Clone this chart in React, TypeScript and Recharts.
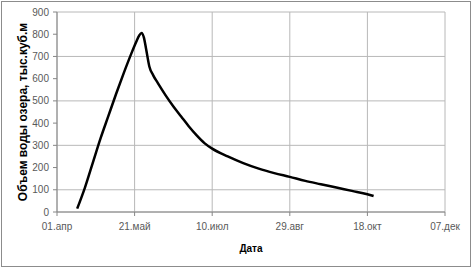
import { LineChart, Line, XAxis, YAxis, CartesianGrid, Label } from 'recharts';

// days counted from 01.апр
const days = [13, 18, 23, 28, 33, 38, 43, 48, 51, 53, 54.5, 56, 57.5, 59.5, 62, 65, 70, 75, 80, 85, 90, 95, 100, 110, 120, 130, 140, 150, 160, 170, 180, 190, 200, 204];
const volume = [15, 110, 220, 330, 430, 530, 625, 715, 765, 795, 806, 785, 730, 655, 615, 580, 525, 475, 430, 385, 345, 310, 285, 250, 220, 195, 175, 158, 140, 125, 110, 95, 80, 72];

const dateTicks = [0, 50, 100, 150, 200, 250];
const dateLabels = ['01.апр', '21.май', '10.июл', '29.авг', '18.окт', '07.дек'];
const volumeTicks = [0, 100, 200, 300, 400, 500, 600, 700, 800, 900];

const data = days.map((d, i) => ({ day: d, volume: volume[i] }));

const font = 'Liberation Sans, Arial, sans-serif';
const tickStyle = { fontSize: 10, fill: '#595959', fontFamily: font };

const App = () => {
  return (
    <div style={{ position: 'absolute', left: 0, top: 0, width: 471, height: 268, background: '#fff' }}>
      <LineChart width={471} height={268} data={data} margin={{ top: 12, right: 26, left: 7, bottom: 14 }}>
        <CartesianGrid stroke="#b8b8b8" vertical horizontal />
        <XAxis
          dataKey="day"
          type="number"
          domain={[0, 250]}
          ticks={dateTicks}
          tickFormatter={(v: number) => dateLabels[dateTicks.indexOf(v)]}
          tick={tickStyle}
          tickSize={4}
          tickMargin={7}
          stroke="#868686"
          height={42}
        >
          <Label value="Дата" position="insideBottom" offset={2} style={{ fontSize: 10, fontWeight: 'bold', fill: '#000', fontFamily: font }} />
        </XAxis>
        <YAxis
          type="number"
          domain={[0, 900]}
          ticks={volumeTicks}
          tick={tickStyle}
          tickSize={4}
          tickMargin={4}
          stroke="#868686"
          width={50}
        >
          <Label
            value="Объем воды озера, тыс.куб.м"
            angle={-90}
            position="insideLeft"
            offset={16}
            style={{ fontSize: 12, fontWeight: 'bold', fill: '#000', fontFamily: font, textAnchor: 'middle' }}
          />
        </YAxis>
        <Line type="monotone" dataKey="volume" stroke="#000" strokeWidth={2.5} dot={false} isAnimationActive={false} />
      </LineChart>
      <div style={{ position: 'absolute', left: 1, top: 1, width: 468, height: 264, border: '1px solid #8c8c8c', pointerEvents: 'none' }} />
    </div>
  );
};

export default App;
